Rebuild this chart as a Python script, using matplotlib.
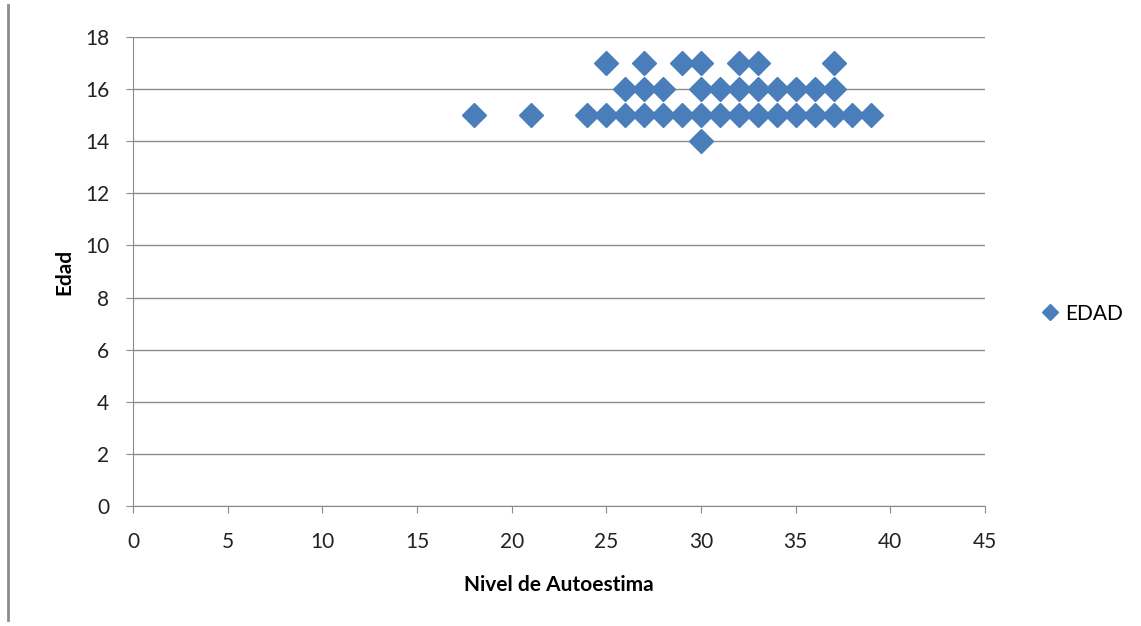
import matplotlib.pyplot as plt
from matplotlib.lines import Line2D

# Nivel de Autoestima vs Edad
autoestima = [25, 27, 29, 30, 32, 33, 37,
              26, 27, 28, 30, 31, 32, 33, 34, 35, 36, 37,
              18, 21, 24, 25, 26, 27, 28, 29, 30, 31, 32, 33, 34, 35, 36, 37, 38, 39,
              30]
edad = [17] * 7 + [16] * 11 + [15] * 18 + [14]

x_ticks = list(range(0, 46, 5))
y_ticks = list(range(0, 19, 2))

plt.rcParams['font.family'] = ['Lato', 'DejaVu Sans']

fig = plt.figure(figsize=(11.41, 6.26), dpi=100)
ax = fig.add_axes([133 / 1141, 1 - 506 / 626, (985 - 133) / 1141, (506 - 37) / 626])

ax.plot(autoestima, edad, linestyle='none', marker='D', markersize=12,
        color='#4a7ebb', label='EDAD', zorder=3)

ax.set_xlim(0, 45)
ax.set_ylim(0, 18)
ax.set_xticks(x_ticks)
ax.set_yticks(y_ticks)
ax.yaxis.grid(True, color='#8c8c8c', linewidth=1)
ax.set_axisbelow(True)
for s in ['top', 'right']:
    ax.spines[s].set_visible(False)
for s in ['left', 'bottom']:
    ax.spines[s].set_color('#8c8c8c')
ax.tick_params(axis='both', labelsize=15, colors='#8c8c8c', labelcolor='#222222', length=5)
ax.tick_params(axis='x', pad=14)
ax.tick_params(axis='y', pad=12)

ax.set_xlabel('Nivel de Autoestima', fontsize=15, fontweight='bold', labelpad=16)
ax.set_ylabel('Edad', fontsize=15, fontweight='bold', labelpad=8)

ax.legend(loc='center left', bbox_to_anchor=(1.04, 0.41), frameon=False,
          fontsize=15, handletextpad=0.1, handlelength=1.2, markerscale=0.7)

fig.add_artist(Line2D([8 / 1141, 8 / 1141], [1 - 5 / 626, 1 - 620 / 626],
                      color='#8c8c8c', linewidth=2))

fig.savefig('out.png', dpi=100)
